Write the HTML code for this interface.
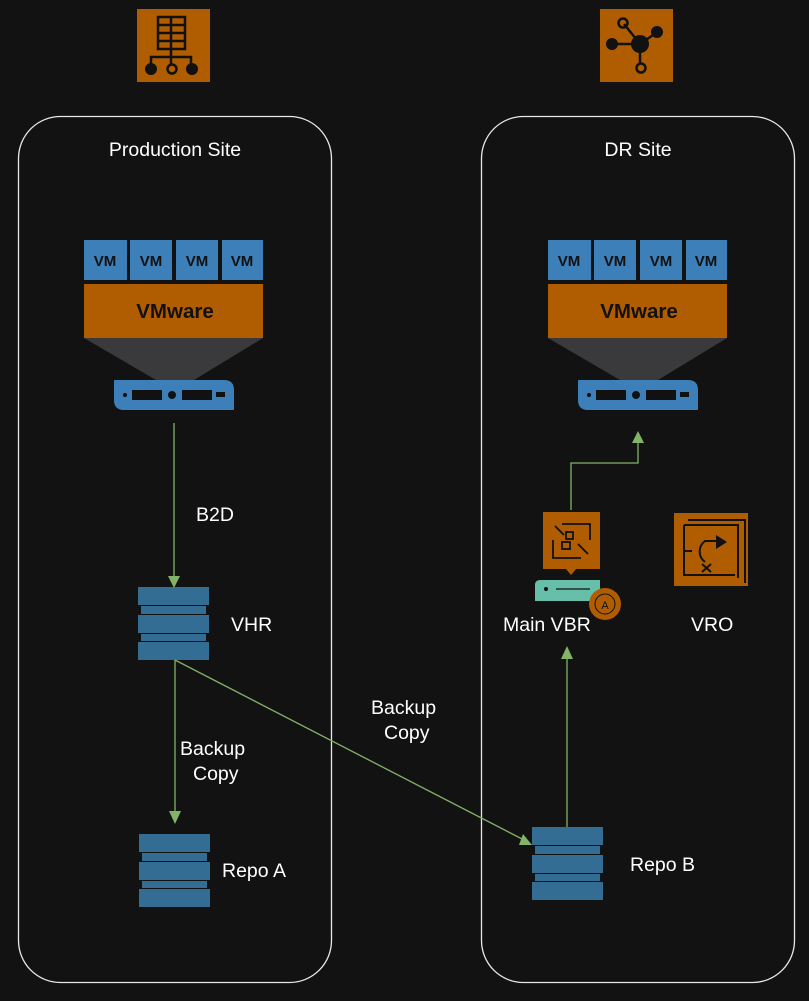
<!DOCTYPE html>
<html><head><meta charset="utf-8"><style>
html,body{margin:0;padding:0;background:#121212;}
svg{display:block;font-family:"Liberation Sans",sans-serif;}
</style></head><body>
<svg width="809" height="1001" viewBox="0 0 809 1001">
<rect width="809" height="1001" fill="#121212"/>
<!-- site boxes -->
<rect x="18.5" y="116.5" width="313" height="866" rx="42" fill="none" stroke="#e8e8e8" stroke-width="1.3"/>
<rect x="481.5" y="116.5" width="313" height="866" rx="42" fill="none" stroke="#e8e8e8" stroke-width="1.3"/>
<text x="175" y="156" fill="#fff" font-size="19.5" text-anchor="middle">Production Site</text>
<text x="638" y="156" fill="#fff" font-size="19.5" text-anchor="middle">DR Site</text>

<!-- top icons -->
<rect x="137" y="9" width="73" height="73" fill="#b05c00"/>
<g stroke="#111" stroke-width="2.5" fill="none">
<rect x="158" y="17" width="27" height="32"/>
<line x1="158" y1="25" x2="185" y2="25"/><line x1="158" y1="33" x2="185" y2="33"/><line x1="158" y1="41" x2="185" y2="41"/>
<line x1="171" y1="17" x2="171" y2="49"/>
<line x1="171" y1="49" x2="171" y2="57"/><polyline points="151,65 151,57 191,57 191,65"/>
<line x1="171" y1="57" x2="171" y2="64"/>
<circle cx="172" cy="69" r="4.5"/>
</g>
<circle cx="151" cy="69" r="6" fill="#111"/><circle cx="192" cy="69" r="6" fill="#111"/>

<rect x="600" y="9" width="73" height="73" fill="#b05c00"/>
<g stroke="#111" stroke-width="2.5" fill="none">
<line x1="611" y1="44" x2="640" y2="44"/><line x1="640" y1="44" x2="656" y2="33"/>
<line x1="640" y1="44" x2="624" y2="24"/><line x1="640" y1="44" x2="640" y2="64"/>
<circle cx="623" cy="23" r="4.5"/><circle cx="641" cy="68" r="4.5"/>
</g>
<circle cx="640" cy="44" r="9" fill="#111"/><circle cx="612" cy="44" r="6" fill="#111"/><circle cx="657" cy="32" r="6" fill="#111"/>

<!-- VMware stacks -->
<g id="vm">
<g fill="#3d7fb8">
<rect x="84" y="240" width="43" height="40"/><rect x="130" y="240" width="42" height="40"/>
<rect x="176" y="240" width="42" height="40"/><rect x="222" y="240" width="41" height="40"/>
</g>
<g fill="#111" font-size="15" font-weight="bold" text-anchor="middle">
<text x="105" y="266">VM</text><text x="151" y="266">VM</text><text x="197" y="266">VM</text><text x="242" y="266">VM</text>
</g>
<rect x="84" y="284" width="179" height="54" fill="#b05c00"/>
<text x="175" y="318" fill="#111" font-size="20.5" font-weight="bold" text-anchor="middle">VMware</text>
<polygon points="84,338 263,338 194,380 156,380" fill="#3a3a3c"/>
<path d="M114,380 H224 Q234,380 234,390 V410 H124 Q114,410 114,400 Z" fill="#3d7fb8"/>
<rect x="132" y="390" width="30" height="10" fill="#111"/><rect x="182" y="390" width="30" height="10" fill="#111"/>
<circle cx="172" cy="395" r="4" fill="#111"/><circle cx="125" cy="395" r="2" fill="#111"/><rect x="216" y="392" width="9" height="5" fill="#111"/>
</g>
<use href="#vm" transform="translate(464,0)"/>

<!-- storage stacks -->
<g id="st" fill="#336d94">
<rect x="138" y="587" width="71" height="18"/><rect x="141" y="606" width="65" height="8"/>
<rect x="138" y="615" width="71" height="18"/><rect x="141" y="634" width="65" height="7"/>
<rect x="138" y="642" width="71" height="18"/>
</g>
<use href="#st" transform="translate(1,247)"/>
<use href="#st" transform="translate(394,240)"/>

<!-- connectors -->
<g stroke="#82b366" stroke-width="1.3" fill="none">
<line x1="174" y1="423" x2="174" y2="580"/>
<line x1="175" y1="660" x2="175" y2="816"/>
<line x1="175" y1="660" x2="524" y2="840"/>
<line x1="567" y1="827" x2="567" y2="654"/>
<polyline points="571,510 571,463 638,463 638,438"/>
</g>
<g fill="#82b366">
<polygon points="168,576 180,576 174,588"/>
<polygon points="169,811 181,811 175,824"/>
<polygon points="532,845 519,845 523,834"/>
<polygon points="561,659 573,659 567,646"/>
<polygon points="632,443 644,443 638,431"/>
</g>

<!-- labels -->
<g fill="#fff" font-size="19.5">
<text x="196" y="521">B2D</text>
<text x="231" y="631">VHR</text>
<text x="180" y="755">Backup</text><text x="193" y="780">Copy</text>
<text x="371" y="714">Backup</text><text x="384" y="739">Copy</text>
<text x="222" y="877">Repo A</text>
<text x="630" y="871">Repo B</text>
<text x="503" y="631">Main VBR</text>
<text x="691" y="631">VRO</text>
</g>

<!-- VBR icon -->
<rect x="543" y="512" width="57" height="57" fill="#b05c00"/>
<polygon points="566,569 576,569 571,575" fill="#b05c00"/>
<g stroke="#111" stroke-width="1.8" fill="none">
<polyline points="562,524 590,524 590,540"/><polyline points="553,540 553,558 581,558"/>
<rect x="566" y="532" width="7" height="7"/><rect x="562" y="542" width="8" height="7"/>
<line x1="555" y1="526" x2="564" y2="535"/><line x1="578" y1="544" x2="588" y2="554"/>
</g>
<path d="M540,580 H600 V601 H535 V585 Q535,580 540,580 Z" fill="#67bfa9"/>
<line x1="556" y1="589" x2="590" y2="589" stroke="#111" stroke-width="1.3"/>
<circle cx="546" cy="589" r="2" fill="#111"/>
<circle cx="605" cy="604" r="16" fill="#b05c00"/>
<circle cx="605" cy="604" r="10" fill="none" stroke="#111" stroke-width="1"/>
<text x="605" y="609" font-size="11" fill="#111" text-anchor="middle">A</text>

<!-- VRO icon -->
<rect x="674" y="513" width="74" height="73" fill="#b05c00"/>
<g stroke="#111" stroke-width="2" fill="none">
<path d="M684,525 H738 V578"/>
<path d="M688,520 H745 V583"/>
<path d="M684,525 V575 H735"/>
<line x1="684" y1="551" x2="692" y2="551"/>
<path d="M705,562 A13,13 0 0 1 705,541 H716"/>
<line x1="702" y1="564" x2="711" y2="572"/><line x1="711" y1="564" x2="702" y2="572"/>
</g>
<polygon points="716,535 727,542 716,549" fill="#111"/>
</svg>
</body></html>
